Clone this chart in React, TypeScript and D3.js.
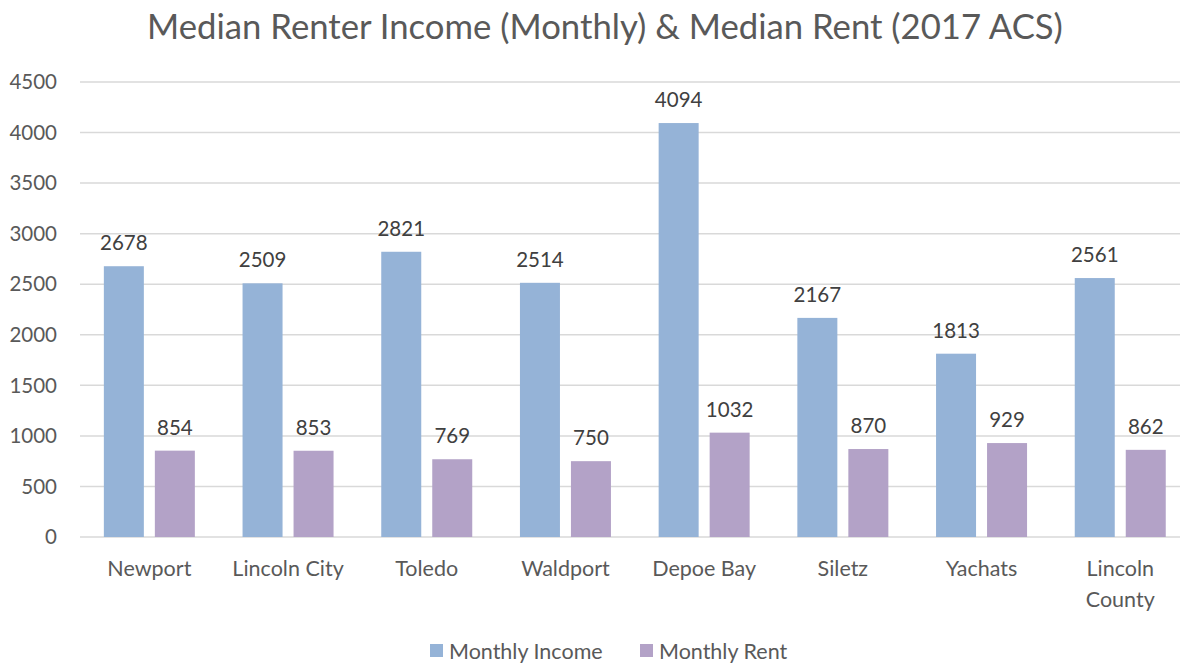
import React from "react";
import * as d3 from "d3";

const categories = ["Newport", "Lincoln City", "Toledo", "Waldport", "Depoe Bay", "Siletz", "Yachats", "Lincoln County"];
const monthlyIncome = [2678, 2509, 2821, 2514, 4094, 2167, 1813, 2561];
const monthlyRent = [854, 853, 769, 750, 1032, 870, 929, 862];
const yTicks = [0, 500, 1000, 1500, 2000, 2500, 3000, 3500, 4000, 4500];
const seriesNames = ["Monthly Income", "Monthly Rent"];
const seriesColors = ["#95B3D7", "#B3A2C7"];

const W = 1180, H = 665;
const FONT = "Lato, 'Open Sans', sans-serif";

export default function App() {
  const x = d3.scaleBand<string>().domain(categories).range([80, 1189.6]).paddingInner(0).paddingOuter(0);
  const y = d3.scaleLinear().domain([0, 4500]).range([537, 82]);
  const step = x.bandwidth();
  const barW = 40, gap = 11;
  const groupW = barW * 2 + gap;
  const series = [monthlyIncome, monthlyRent];

  return (
    <svg width={W} height={H} style={{ position: "absolute", left: 0, top: 0, background: "#fff" }} fontFamily={FONT}>
      <rect x={0} y={0} width={W} height={H} fill="#fff" />
      <text x={605} y={39} textAnchor="middle" fontSize={34.7} fill="#595959">
        Median Renter Income (Monthly) &amp; Median Rent (2017 ACS)
      </text>
      {yTicks.map((t) => (
        <g key={t}>
          <line x1={80} x2={1190} y1={y(t)} y2={y(t)} stroke="#d9d9d9" strokeWidth={1.5} />
          <text x={57} y={y(t)} dy="0.35em" textAnchor="end" fontSize={20.5} fill="#595959">{t}</text>
        </g>
      ))}
      {categories.map((c, i) => {
        const x0 = (x(c) as number) + (step - groupW) / 2;
        const cx = (x(c) as number) + step / 2;
        return (
          <g key={c}>
            {series.map((s, j) => {
              const bx = x0 + j * (barW + gap);
              return (
                <g key={j}>
                  <rect x={bx} y={y(s[i])} width={barW} height={y(0) - y(s[i])} fill={seriesColors[j]} />
                  <text x={bx + barW / 2} y={y(s[i]) - 16} textAnchor="middle" fontSize={20.5} fill="#404040">{s[i]}</text>
                </g>
              );
            })}
            {c === "Lincoln County" ? (
              <text x={cx} y={576} textAnchor="middle" fontSize={21.5} fill="#595959">
                <tspan x={cx}>Lincoln</tspan>
                <tspan x={cx} dy={31}>County</tspan>
              </text>
            ) : (
              <text x={cx} y={576} textAnchor="middle" fontSize={21.5} fill="#595959">{c}</text>
            )}
          </g>
        );
      })}
      {seriesNames.map((n, j) => {
        const lx = [430, 640][j];
        return (
          <g key={n}>
            <rect x={lx} y={644} width={13} height={13} fill={seriesColors[j]} />
            <text x={lx + 19} y={659} fontSize={21.5} fill="#595959">{n}</text>
          </g>
        );
      })}
    </svg>
  );
}
